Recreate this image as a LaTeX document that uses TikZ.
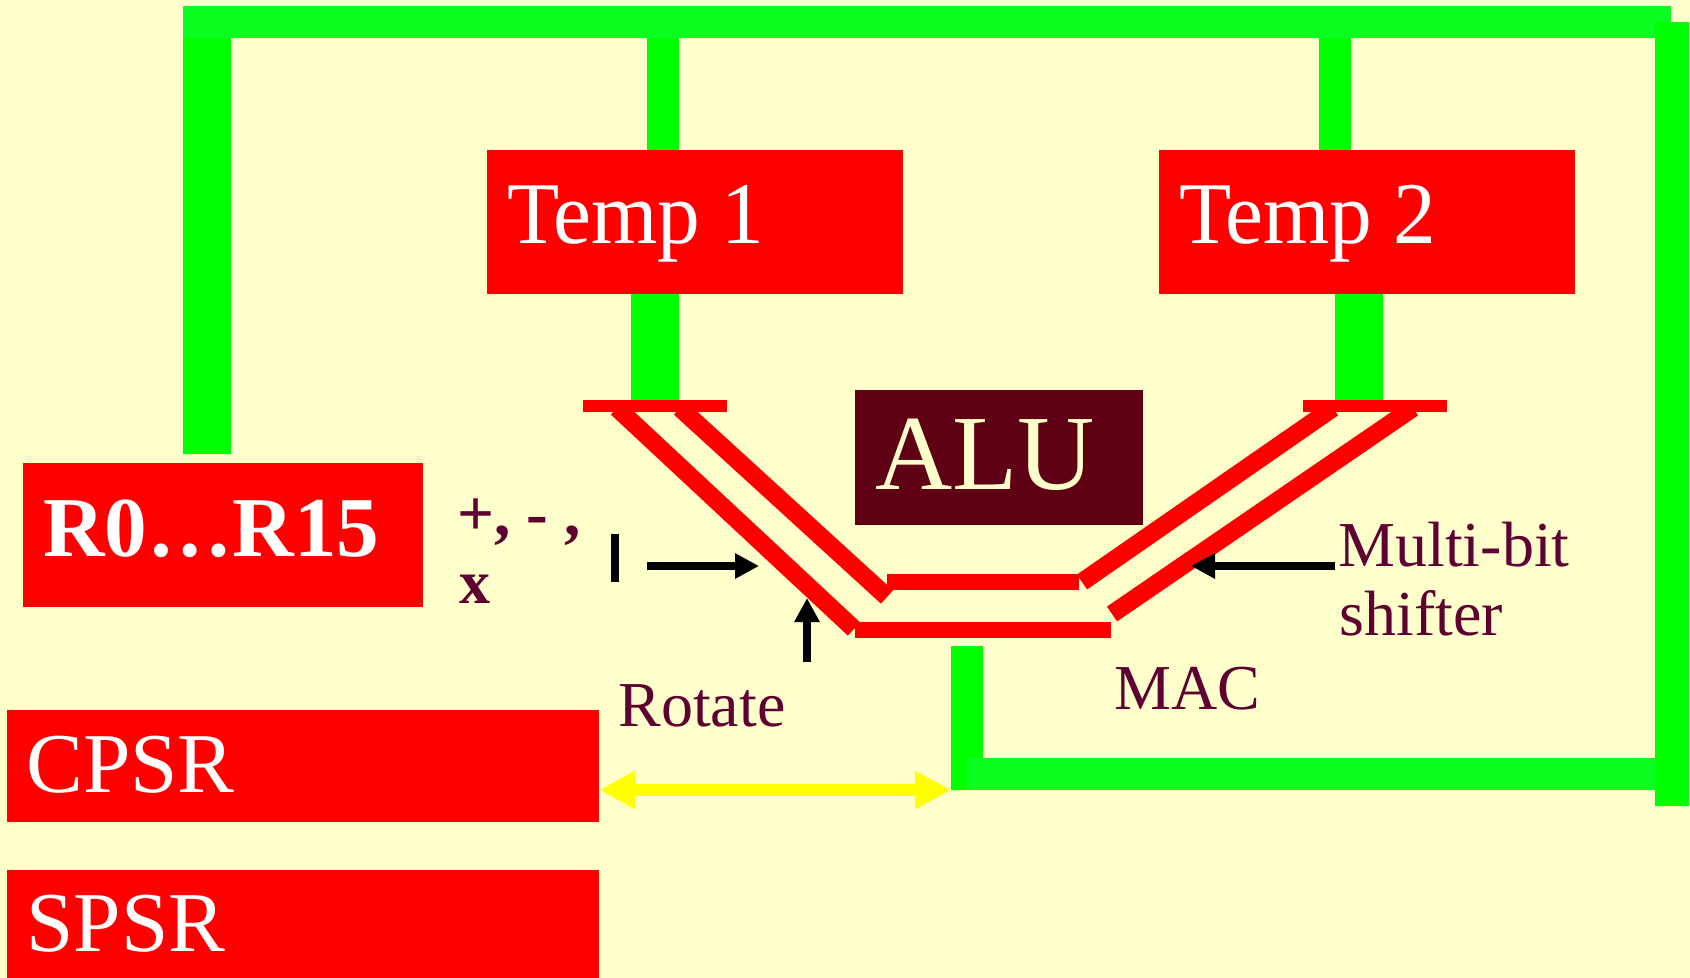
\documentclass[tikz,border=0pt]{standalone}
\usepackage{fontspec}
\setmainfont{Liberation Serif}
\newfontfamily\tempfont[FakeStretch=0.97]{Liberation Serif}
\usetikzlibrary{arrows.meta}
\definecolor{paper}{HTML}{FFFFCC}
\definecolor{busgreen}{HTML}{00FF00}
\definecolor{barTop}{HTML}{0AFF20}
\definecolor{wine}{HTML}{5F0033}
\definecolor{aluback}{HTML}{600014}
\definecolor{linkyellow}{HTML}{FFFF00}
\tikzset{
  regbox/.style={fill=red,inner sep=0pt,text width=0pt},
  busline/.style={draw=busgreen},
  barline/.style={draw=red,line width=8pt},
  slantline/.style={draw=red,line width=9pt},
  thinbar/.style={draw=red,line width=6pt},
  blackarrow/.style={draw=black,line width=4pt,-{Triangle[length=12pt,width=12pt]}},
  regtext/.style={anchor=base west,inner sep=0pt,text=white},
  labeltext/.style={anchor=base west,inner sep=0pt,text=wine}
}
\begin{document}
\begin{tikzpicture}[x=0.5pt,y=-0.5pt]
\fill[color=paper] (0,0) rectangle (1690,978);
\useasboundingbox (0,0) rectangle (1690,978);

\node[regbox,minimum width=208pt,minimum height=72pt] (temp1) at (695,222) {};
\node[regbox,minimum width=208pt,minimum height=72pt] (temp2) at (1367,222) {};
\node[regbox,minimum width=200pt,minimum height=72pt] (regs) at (223,535) {};
\node[regbox,minimum width=296pt,minimum height=56pt] (cpsr) at (303,766) {};
\node[regbox,minimum width=296pt,minimum height=54pt] (spsr) at (303,924) {};
\node[fill=aluback,inner sep=0pt,minimum width=144pt,minimum height=67.5pt] (alu) at (999,457.5) {};

\coordinate (busleft) at (207,22);
\coordinate (busright) at (1672,22);
\coordinate (busone) at (663,22);
\coordinate (bustwo) at (1335,22);
\coordinate (regstop) at (207,454);
\coordinate (inone) at (655,400);
\coordinate (intwo) at (1359,400);
\coordinate (rightend) at (1672,806);
\coordinate (outtop) at (966.5,646);
\coordinate (outbend) at (966.5,790);
\coordinate (outrun) at (967,774);
\coordinate (linkend) at (951,790);

% green buses
\path[busline,line width=24pt] (regstop) -- (busleft |- 0,38);
\path[busline,line width=16pt] (busone |- 0,38) -- (busone |- temp1.north);
\path[busline,line width=16pt] (bustwo |- 0,38) -- (bustwo |- temp2.north);
\path[busline,line width=24pt] (inone |- temp1.south) -- (inone);
\path[busline,line width=24pt] (intwo |- temp2.south) -- (intwo);
\path[draw=barTop,line width=16pt] (183,22) -- (1671,22);
\path[busline,line width=17pt] (busright) -- (rightend);
\path[busline,line width=16pt] (outtop) -- (outbend);
\path[draw=barTop,line width=16pt] (outrun) -- (1656,774);

% alu channel
\coordinate (lefta) at (617,408);
\coordinate (leftb) at (854,629);
\coordinate (leftc) at (680,408);
\coordinate (leftd) at (887,597);
\coordinate (righta) at (1333,408);
\coordinate (rightb) at (1082,582);
\coordinate (rightc) at (1413,408);
\coordinate (rightd) at (1112,614);
\path[slantline] (lefta) -- (leftb);
\path[slantline] (leftc) -- (leftd);
\path[slantline] (righta) -- (rightb);
\path[slantline] (rightc) -- (rightd);
\path[barline] (887,582) -- (1079,582);
\path[barline] (855,630) -- (1111,630);
\path[thinbar] (583,406) -- (727,406);
\path[thinbar] (1303,406) -- (1447,406);

% black marks
\path[draw=black,line width=4pt] (615,534) -- (615,582);
\path[blackarrow] (647,566) -- (759,566);
\path[blackarrow] (807,662) -- (807,598);
\path[blackarrow] (1335,566) -- (1191,566);

% yellow arrow
\path[draw=linkyellow,line width=6pt,{Triangle[length=18pt,width=18pt]}-{Triangle[length=18pt,width=18pt]}] (cpsr.east |- 0,790) -- (linkend);

\node[regtext,font=\fontsize{44}{44}\tempfont] (temp1text) at (507,244) {Temp 1};
\node[regtext,font=\fontsize{44}{44}\tempfont] (temp2text) at (1179,244) {Temp 2};
\node[regtext,font=\fontsize{42.6}{42.6}\selectfont\bfseries] (regstext) at (43,556) {R0…R15};
\node[regtext,font=\fontsize{42.6}{42.6}\selectfont] (cpsrtext) at (26,792) {CPSR};
\node[regtext,font=\fontsize{42.6}{42.6}\selectfont] (spsrtext) at (26,951) {SPSR};
\node[regtext,text=paper,font=\fontsize{53.4}{53.4}\selectfont] (alutext) at (875,489) {ALU};
\node[labeltext,font=\fontsize{32}{32}\selectfont] (rotatetext) at (618,726) {Rotate};
\node[labeltext,font=\fontsize{32}{32}\selectfont] (mactext) at (1114,709) {MAC};
\node[labeltext,font=\fontsize{32}{32}\selectfont] (multitext) at (1338,566) {Multi-bit};
\node[labeltext,font=\fontsize{32}{32}\selectfont] (shiftertext) at (1339,635) {shifter};
\node[labeltext,font=\fontsize{32.5}{32.5}\selectfont\bfseries] (opstext) at (457,535) {+, - ,};
\node[labeltext,font=\fontsize{31}{31}\selectfont\bfseries] (xtext) at (459,603) {x};
\end{tikzpicture}
\end{document}
